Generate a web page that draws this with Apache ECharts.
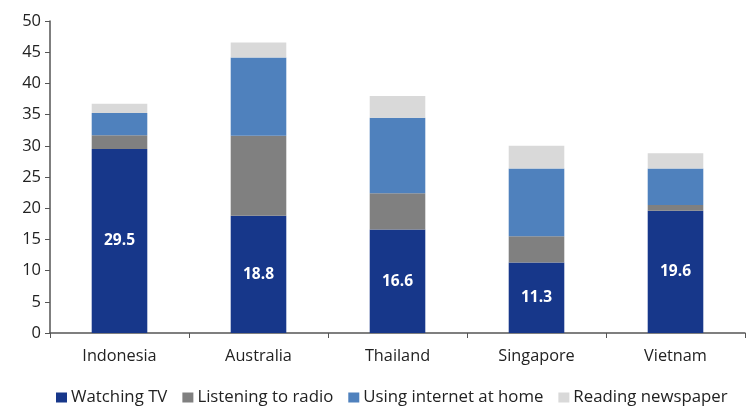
<!DOCTYPE html>
<html><head><meta charset="utf-8">
<script src="https://cdn.jsdelivr.net/npm/echarts@6/dist/echarts.min.js"></script>
<style>html,body{margin:0;padding:0;background:#fff}#c{width:752px;height:407px}</style>
</head><body><div id="c"></div>
<script>
const categories = ['Indonesia', 'Australia', 'Thailand', 'Singapore', 'Vietnam'];
const watchingTV = [29.5, 18.8, 16.6, 11.3, 19.6];
const listeningRadio = [2.2, 12.8, 5.8, 4.2, 0.9];
const usingInternet = [3.55, 12.55, 12.1, 10.85, 5.85];
const readingNewspaper = [1.5, 2.4, 3.5, 3.65, 2.45];
const seriesNames = ['Watching TV', 'Listening to radio', 'Using internet at home', 'Reading newspaper'];
const colors = ['#17378A', '#808080', '#4F81BD', '#D9D9D9'];
const font = 'Open Sans';
const chart = echarts.init(document.getElementById('c'));
const mk = (name, data, color, label) => ({
  name, type: 'bar', stack: 'a', data, barWidth: '40%',
  itemStyle: { color },
  label: label ? { show: true, position: 'inside', color: '#fff', fontWeight: 'bold', fontSize: 15.5, fontFamily: font, formatter: p => p.value.toFixed(1) } : { show: false },
  emphasis: { disabled: true }
});
chart.setOption({
  animation: false,
  grid: { left: 50, right: 7, top: 21, bottom: 74, containLabel: false },
  legend: {
    top: 384, left: 51, itemWidth: 11, itemHeight: 10, itemGap: 15,
    icon: 'rect',
    textStyle: { fontSize: 16.8, fontFamily: font, color: '#222', padding: [0, 0, 0, -1] },
    data: seriesNames
  },
  xAxis: {
    type: 'category', data: categories,
    axisLine: { lineStyle: { color: '#555', width: 1.5 } },
    axisTick: { show: true, length: 5, lineStyle: { color: '#555' } },
    axisLabel: { fontSize: 16.3, fontFamily: font, color: '#222', margin: 15 }
  },
  yAxis: {
    type: 'value', min: 0, max: 50, interval: 5,
    splitLine: { show: false },
    axisLine: { show: true, lineStyle: { color: '#555', width: 1.5 } },
    axisTick: { show: true, length: 5, lineStyle: { color: '#555' } },
    axisLabel: { fontSize: 16.5, fontFamily: font, color: '#222', margin: 9 }
  },
  series: [
    mk(seriesNames[0], watchingTV, colors[0], true),
    mk(seriesNames[1], listeningRadio, colors[1]),
    mk(seriesNames[2], usingInternet, colors[2]),
    mk(seriesNames[3], readingNewspaper, colors[3])
  ]
});
</script></body></html>
